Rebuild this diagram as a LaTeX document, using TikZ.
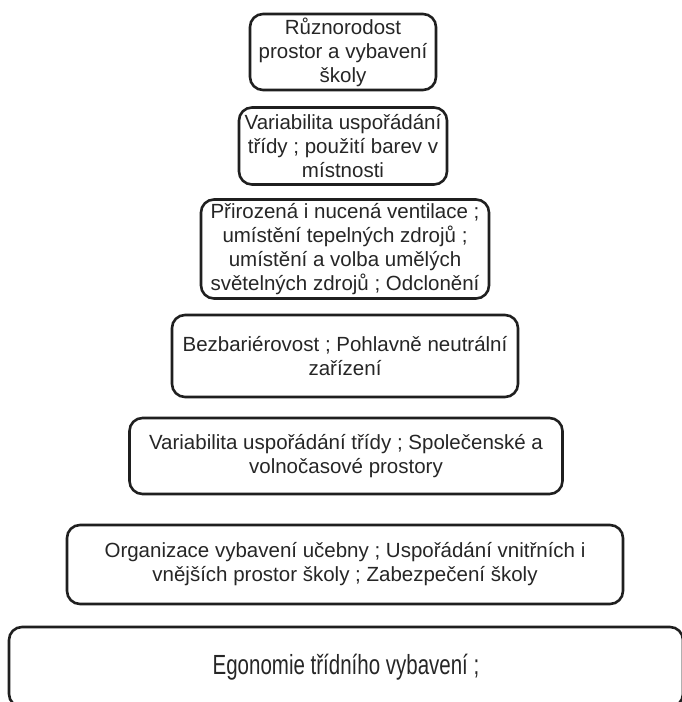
\documentclass[tikz,border=0pt]{standalone}
\usepackage{fontspec}
\usepackage{graphicx}
\setmainfont{Liberation Sans}
\tikzset{
  level/.style={draw=black!88, line width=2.6pt, rounded corners=13pt,
    align=center, inner sep=2pt, text=black!85,
    font=\fontsize{20.5}{24}\selectfont},
}
\begin{document}
\begin{tikzpicture}[x=1pt, y=-1pt]
\useasboundingbox[fill=white] (0,0) rectangle (681,702);
% tiers, top to bottom
\node[level, minimum width=186pt, minimum height=76pt] (t1) at (343,52)
  {Různorodost\\prostor a vybavení\\školy};
\node[level, minimum width=208pt, minimum height=77pt] (t2) at (343,146)
  {Variabilita uspořádání\\třídy ; použití barev v\\místnosti};
\node[level, minimum width=288pt, minimum height=99pt] (t3) at (345,249)
  {Přirozená i nucená ventilace ;\\umístění tepelných zdrojů ;\\umístění a volba umělých\\světelných zdrojů ; Odclonění};
\node[level, minimum width=346pt, minimum height=82pt] (t4) at (345,356)
  {Bezbariérovost ; Pohlavně neutrální\\zařízení};
\node[level, minimum width=433pt, minimum height=76pt] (t5) at (346,456)
  {Variabilita uspořádání třídy ; Společenské a\\volnočasové prostory};
\node[level, minimum width=556pt, minimum height=79pt] (t6) at (345,564.5)
  {Organizace vybavení učebny ; Uspořádání vnitřních i\\vnějších prostor školy ; Zabezpečení školy};
\node[level, minimum width=674pt, minimum height=80pt] (t7) at (346,667)
  {\scalebox{1}[1.35]{Egonomie třídního vybavení ;}};
\end{tikzpicture}
\end{document}
